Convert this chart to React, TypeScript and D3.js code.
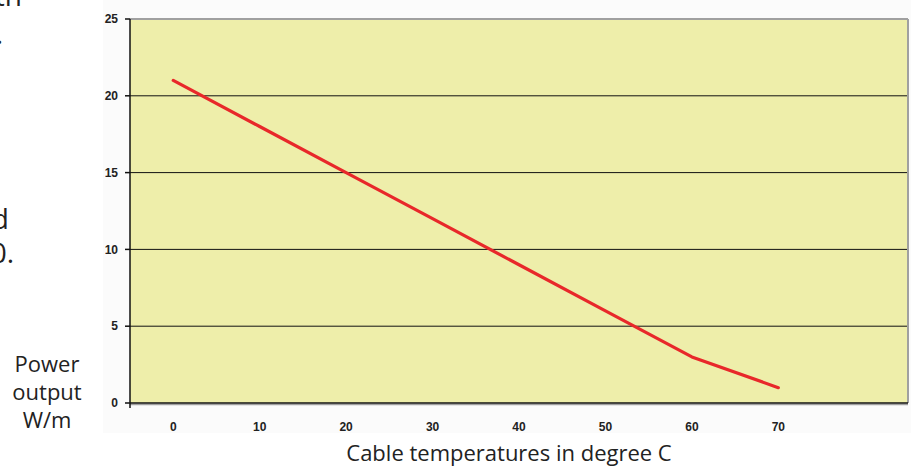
import React from "react";
import * as d3 from "d3";

const temperatures = [0, 10, 20, 30, 40, 50, 60, 70];
const powerOutput = [21, 18, 15, 12, 9, 6, 3, 1];
const yTicks = [0, 5, 10, 15, 20, 25];
const xTicks = [0, 10, 20, 30, 40, 50, 60, 70];
const yLabelLines = ["Power", "output", "W/m"];
const xTitle = "Cable temperatures in degree C";

export default function App() {
  const W = 911, H = 469;
  const left = 130, right = 908, top = 19, bottom = 403;
  const x = d3.scaleLinear().domain([-5, 85]).range([left, right]);
  const y = d3.scaleLinear().domain([0, 25]).range([bottom, top]);
  const line = d3.line<number>().x((_, i) => x(temperatures[i])).y((d) => y(d));
  const font = "'Open Sans', 'DejaVu Sans', sans-serif";
  const tickFont = "Arial, 'Liberation Sans', sans-serif";
  return (
    <svg width={W} height={H} style={{ position: "absolute", left: 0, top: 0 }}>
      <rect x={0} y={0} width={W} height={H} fill="#ffffff" />
      <rect x={103} y={0} width={W - 103} height={433} fill="#fbfbfb" />
      <rect x={left} y={top} width={right - left} height={bottom - top} fill="#eeeeaa" />
      {yTicks.slice(1, -1).map((t) => (
        <line key={t} x1={left} x2={right} y1={y(t)} y2={y(t)} stroke="#111" strokeWidth={1} />
      ))}
      <line x1={left} x2={right} y1={top} y2={top} stroke="#a0a0a0" strokeWidth={2} />
      <line x1={right} x2={right} y1={top} y2={bottom} stroke="#a0a0a0" strokeWidth={2} />
      <line x1={left} x2={right} y1={bottom + 1.5} y2={bottom + 1.5} stroke="#a0a0a0" strokeWidth={1.5} />
      <line x1={left} x2={right} y1={bottom} y2={bottom} stroke="#111" strokeWidth={1.5} />
      <line x1={left} x2={left} y1={top} y2={bottom + 5} stroke="#111" strokeWidth={1.5} />
      {yTicks.map((t) => (
        <g key={t}>
          <line x1={left - 5} x2={left} y1={y(t)} y2={y(t)} stroke="#111" strokeWidth={1.5} />
          <text x={118} y={y(t)} dy="0.35em" textAnchor="end" fontFamily={tickFont} fontWeight="bold" fontSize={12} fill="#222">{t}</text>
        </g>
      ))}
      {xTicks.map((t) => (
        <text key={t} x={x(t)} y={431} textAnchor="middle" fontFamily={tickFont} fontWeight="bold" fontSize={12} fill="#222">{t}</text>
      ))}
      <path d={line(powerOutput) || ""} fill="none" stroke="#e8282a" strokeWidth={3.2} strokeLinejoin="round" strokeLinecap="round" />
      {yLabelLines.map((s, i) => (
        <text key={s} x={47} y={372 + i * 28} textAnchor="middle" fontFamily={font} fontSize={22} fill="#222">{s}</text>
      ))}
      <text x={509} y={461} textAnchor="middle" fontFamily={font} fontSize={22} fill="#222">{xTitle}</text>
      <text x={22} y={6} textAnchor="end" fontFamily={font} fontSize={28} fill="#222">th</text>
      <text x={3} y={44} textAnchor="end" fontFamily={font} fontSize={28} fill="#222">.</text>
      <text x={9} y={229} textAnchor="end" fontFamily={font} fontSize={28} fill="#222">d</text>
      <text x={14} y={263} textAnchor="end" fontFamily={font} fontSize={28} fill="#222">0.</text>
    </svg>
  );
}
